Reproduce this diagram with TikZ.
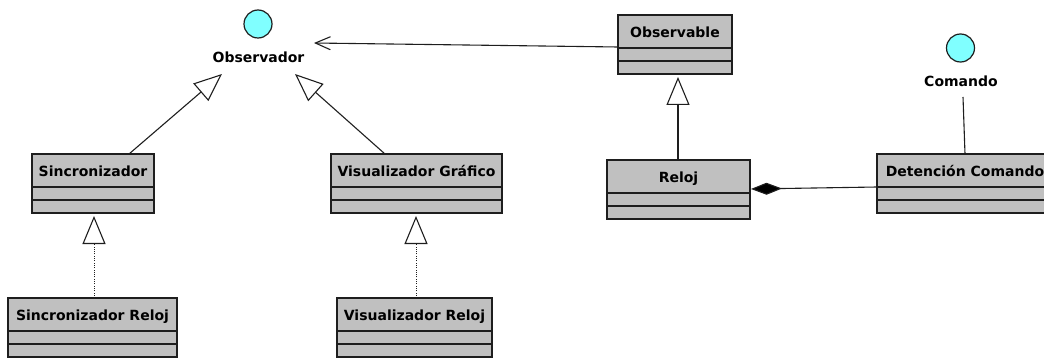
\documentclass[tikz,border=0pt]{standalone}
\usepackage{fontspec}
\setmainfont{DejaVu Sans}
\usetikzlibrary{arrows.meta,calc}
\definecolor{boxgray}{RGB}{192,192,192}
\definecolor{ifacecyan}{RGB}{128,255,255}
\definecolor{edge}{RGB}{30,30,30}
\tikzset{
  classbox/.style={draw=edge, fill=boxgray, line width=1.3pt, rectangle, inner sep=0pt, outer sep=0pt, minimum height=59pt, anchor=north west},
  classname/.style={font=\fontsize{14}{16}\selectfont\bfseries, anchor=base, inner sep=0pt},
  sepline/.style={draw=edge, line width=1.2pt},
  iface/.style={circle, draw=edge, fill=ifacecyan, line width=1.2pt, minimum size=28pt, inner sep=0pt},
  ifacelabel/.style={font=\fontsize{14}{16}\selectfont\bfseries, anchor=base, inner sep=0pt},
  conn/.style={draw=edge, line width=1.1pt},
  gen/.style={conn, -{Triangle[open, length=28pt, width=23pt, line width=1.1pt]}},
  real/.style={conn, line width=0.9pt, dash pattern=on 0.9pt off 1.4pt, -{Triangle[open, length=28pt, width=23pt, line width=1.1pt]}},
  navig/.style={conn, -{Straight Barb[length=15pt, width=13pt, line width=1.1pt]}},
  compos/.style={conn, {Diamond[length=31pt, width=12pt, fill=black]}-}
}
\newcommand{\umlclass}[5]{%
  \node[classbox, minimum width=#4] (#1) at (#2,#3) {};
  \node[classname] (#1-t) at ($(#1.north)+(0,22.5)$) {#5};
  \draw[sepline] ($(#1.north west)+(0,33)$) -- ($(#1.north east)+(0,33)$);
  \draw[sepline] ($(#1.north west)+(0,46)$) -- ($(#1.north east)+(0,46)$);
}
\begin{document}
\begin{tikzpicture}[x=1pt, y=-1pt]
\useasboundingbox (0,0) rectangle (1044,358);
\clip (0,0) rectangle (1044,358);

% interfaces
\node[iface] (obsc) at (258,24) {};
\node[ifacelabel] (obsl) at (258.5,63) {Observador};
\node[iface] (cmdc) at (960.5,48) {};
\node[ifacelabel] (cmdl) at (961,87) {Comando};

% classes
\umlclass{sinc}{32}{154}{122pt}{Sincronizador}
\umlclass{visg}{331}{154}{171pt}{Visualizador Gráfico}
\umlclass{sincr}{8}{298}{169pt}{Sincronizador Reloj}
\umlclass{visr}{337}{298}{155pt}{Visualizador Reloj}
\umlclass{obsv}{618}{15}{114pt}{Observable}
\umlclass{reloj}{607}{160}{143pt}{Reloj}
\umlclass{detc}{877}{154}{176pt}{Detención Comando}

% connector end points near the Observador label
\coordinate (obsnav) at (314,43);
\coordinate (obsgl) at (222,74);
\coordinate (obsgr) at (295,74);
\coordinate (cmdend) at (963,97);

% Observable -> Observador
\draw[navig] ($(obsv.north west)+(0,32)$) -- (obsnav);
% generalizations to Observador
\draw[gen] ($(sinc.north west)+(97,0)$) -- (obsgl);
\draw[gen] ($(visg.north west)+(54,0)$) -- (obsgr);
% realizations
\draw[real, shorten >=3pt] ($(sincr.north west)+(86,0)$) -- ($(sinc.north west)+(62,59)$);
\draw[real, shorten >=3pt] ($(visr.north west)+(79,0)$) -- ($(visg.north west)+(85,59)$);
% Reloj -> Observable
\draw[gen, shorten >=3pt] ($(reloj.north west)+(71,0)$) -- ($(obsv.north west)+(60,59)$);
% composition
\draw[compos] ($(reloj.north east)+(1,29)$) -- ($(detc.north west)+(0,33)$);
% Comando -- Detencion Comando
\draw[conn] (cmdend) -- ($(detc.north west)+(88,0)$);
\end{tikzpicture}
\end{document}
